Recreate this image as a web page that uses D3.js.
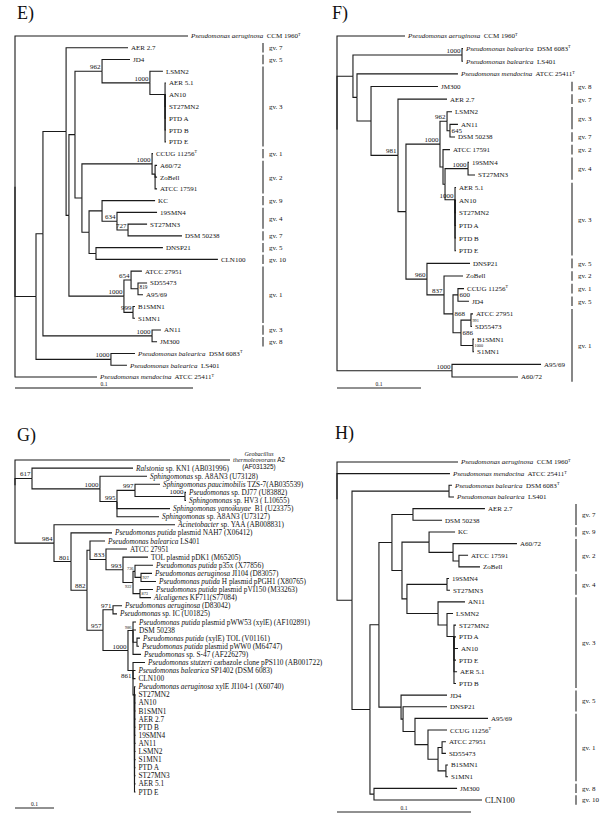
<!DOCTYPE html>
<html><head><meta charset="utf-8">
<script src="https://cdn.jsdelivr.net/npm/d3@7"></script>
<style>
body{margin:0;background:#fff}
svg{display:block}
text{font-family:"Liberation Serif","Times New Roman",serif;fill:#111;white-space:pre}
</style></head><body>
<svg id="chart" width="604" height="825"></svg>
<script>
// ---------- DATA ----------
// Tree rows: [node id / leaf label, parent id, distance from root (subst./site), bootstrap]
// Leaf label markup: *italic*, ^T superscript T, ~sans~, | line break
const treeE = [
 ["e0", null, 0],
 ["*Pseudomonas aeruginosa*  CCM 1960^T", "e0", 0.0972],
 ["e1", "e0", 0.0118],
 ["e2", "e1", 0.0157],
 ["e3", "e2", 0.0287],
 ["AER 2.7", "e3", 0.0635],
 ["e4", "e3", 0.0303],
 ["e5", "e4", 0.0337],
 ["e6", "e5", 0.0489, 962],
 ["JD4", "e6", 0.0646],
 ["e7", "e6", 0.0758, 1000],
 ["LSMN2", "e7", 0.0831],
 ["e8", "e7", 0.0843],
 ["AER 5.1", "e8", 0.0848],
 ["AN10", "e8", 0.0848],
 ["ST27MN2", "e8", 0.0848],
 ["PTD A", "e8", 0.0848],
 ["PTD B", "e8", 0.0848],
 ["PTD E", "e8", 0.0848],
 ["e9", "e5", 0.0376],
 ["e10", "e9", 0.0770, 1000],
 ["CCUG 11256^T", "e10", 0.0775],
 ["e11", "e10", 0.0787],
 ["A60/72", "e11", 0.0798],
 ["ZoBell", "e11", 0.0798],
 ["ATCC 17591", "e11", 0.0798],
 ["e12", "e9", 0.0416],
 ["e13", "e12", 0.0489],
 ["KC", "e13", 0.0787],
 ["e14", "e13", 0.0573, 634],
 ["19SMN4", "e14", 0.0798],
 ["e15", "e14", 0.0635, 727],
 ["ST27MN3", "e15", 0.0742],
 ["DSM 50238", "e15", 0.0938],
 ["e16", "e12", 0.0455],
 ["DNSP21", "e16", 0.0831],
 ["CLN100", "e16", 0.1140],
 ["e17", "e4", 0.0612, 1000],
 ["e18", "e17", 0.0652, 654],
 ["ATCC 27951", "e18", 0.0713],
 ["e19", "e18", 0.0691, 819],
 ["SD55473", "e19", 0.0742],
 ["A95/69", "e19", 0.0719],
 ["e20", "e17", 0.0663, 999],
 ["B1SMN1", "e20", 0.0674],
 ["S1MN1", "e20", 0.0674],
 ["e21", "e2", 0.0770, 1000],
 ["AN11", "e21", 0.0820],
 ["JM300", "e21", 0.0798],
 ["e22", "e1", 0.0539, 1000],
 ["*Pseudomonas balearica*  DSM 6083^T", "e22", 0.0674],
 ["*Pseudomonas balearica*  LS401", "e22", 0.0629],
 ["*Pseudomonas mendocina*  ATCC 25411^T", "e0", 0.0461]
];

const treeF = [
 ["f0", null, 0],
 ["*Pseudomonas aeruginosa*  CCM 1960^T", "f0", 0.0810],
 ["f1", "f0", 0.0190],
 ["f2", "f1", 0.1488, 1000],
 ["*Pseudomonas balearica*  DSM 6083^T", "f2", 0.1500],
 ["*Pseudomonas balearica*  LS401", "f2", 0.1500],
 ["f3", "f1", 0.0238],
 ["*Pseudomonas mendocina*  ATCC 25411^T", "f3", 0.1440],
 ["f4", "f3", 0.0405],
 ["JM300", "f4", 0.1202],
 ["f5", "f4", 0.0726, 981],
 ["AER 2.7", "f5", 0.1310],
 ["f6", "f5", 0.0821],
 ["f7", "f6", 0.1226, 1000],
 ["f8", "f7", 0.1310, 962],
 ["LSMN2", "f8", 0.1369],
 ["f9", "f8", 0.1345, 645],
 ["AN11", "f9", 0.1440],
 ["DSM 50238", "f9", 0.1405],
 ["f10", "f7", 0.1262],
 ["ATCC 17591", "f10", 0.1345],
 ["f11", "f10", 0.1286],
 ["f12", "f11", 0.1560, 1000],
 ["19SMN4", "f12", 0.1571],
 ["ST27MN3", "f12", 0.1643],
 ["f13", "f11", 0.1405, 1000],
 ["AER 5.1", "f13", 0.1417],
 ["AN10", "f13", 0.1417],
 ["ST27MN2", "f13", 0.1417],
 ["PTD A", "f13", 0.1417],
 ["PTD B", "f13", 0.1417],
 ["PTD E", "f13", 0.1417],
 ["f14", "f6", 0.1071, 960],
 ["DNSP21", "f14", 0.1583],
 ["f15", "f14", 0.1274, 837],
 ["ZoBell", "f15", 0.1500],
 ["f16", "f15", 0.1381, 868],
 ["f17", "f16", 0.1440, 600],
 ["CCUG 11256^T", "f17", 0.1512],
 ["JD4", "f17", 0.1571],
 ["f18", "f16", 0.1476, 686],
 ["f19", "f18", 0.1595, 991],
 ["ATCC 27951", "f19", 0.1619],
 ["SD55473", "f19", 0.1607],
 ["f20", "f18", 0.1619, 1000],
 ["B1SMN1", "f20", 0.1631],
 ["S1MN1", "f20", 0.1631],
 ["f21", "f0", 0.1369, 1000],
 ["A95/69", "f21", 0.2429],
 ["A60/72", "f21", 0.2155]
];

const treeG = [
 ["g0", null, 0],
 ["*Geobacillus*|*thermoleovorans* ~A2~|~(AF031325)~", "g0", 0.5513],
 ["g1", "g0", 0.0436, 617],
 ["*Ralstonia* sp. KN1 (AB031996)", "g1", 0.3026],
 ["g2", "g1", 0.2179, 1000],
 ["*Sphingomonas* sp. A8AN3 (U73128)", "g2", 0.3385],
 ["g3", "g2", 0.2615, 995],
 ["g4", "g3", 0.3077, 997],
 ["*Sphingomonas paucimobilis* TZS-7(AB035539)", "g4", 0.3718],
 ["g5", "g4", 0.4359, 1000],
 ["*Pseudomonas* sp. DJ77 (U83882)", "g5", 0.4385],
 ["*Sphingomonas* sp. HV3 ( L10655)", "g5", 0.4385],
 ["*Sphingomonas yanoikuyae*  B1 (U23375)", "g3", 0.3974],
 ["*Sphingomonas* sp. A8AN3 (U73127)", "g3", 0.3692],
 ["g6", "g0", 0.1000, 984],
 ["*Acinetobacter* sp. YAA (AB008831)", "g6", 0.4103],
 ["g7", "g6", 0.1436, 801],
 ["*Pseudomonas putida* plasmid NAH7 (X06412)", "g7", 0.2487],
 ["g8", "g7", 0.1846, 882],
 ["g9", "g8", 0.1923],
 ["*Pseudomonas balearica* LS401", "g9", 0.2308],
 ["g10", "g9", 0.2333, 833],
 ["ATCC 27951", "g10", 0.2872],
 ["g11", "g10", 0.2769, 993],
 ["TOL plasmid pDK1 (M65205)", "g11", 0.3410],
 ["g12", "g11", 0.3026, 922],
 ["g13", "g12", 0.3077, 736],
 ["*Pseudomonas putida* p35x (X77856)", "g13", 0.3538],
 ["g14", "g13", 0.3231, 927],
 ["*Pseudomonas aeruginosa* JI104 (D83057)", "g14", 0.3513],
 ["*Pseudomonas putida* H plasmid pPGH1 (X80765)", "g14", 0.3615],
 ["g15", "g12", 0.3205, 873],
 ["*Pseudomonas putida* plasmid pVI150 (M33263)", "g15", 0.3538],
 ["*Alcaligenes* KF711(S77084)", "g15", 0.3487],
 ["g16", "g8", 0.2256, 957],
 ["g17", "g16", 0.2513, 971],
 ["*Pseudomonas aeruginosa* (D83042)", "g17", 0.2744],
 ["*Pseudomonas* sp. IC (U01825)", "g17", 0.2615],
 ["g18", "g16", 0.2897, 1000],
 ["g19", "g18", 0.3026, 986],
 ["*Pseudomonas putida* plasmid pWW53 (xylE) (AF102891)", "g19", 0.3103],
 ["DSM 50238", "g19", 0.3103],
 ["g20", "g19", 0.3128],
 ["*Pseudomonas putida* (xylE) TOL (V01161)", "g20", 0.3205],
 ["*Pseudomonas putida* plasmid pWW0 (M64747)", "g20", 0.3179],
 ["*Pseudomonas* sp. S-47 (AF226279)", "g19", 0.3231],
 ["g21", "g18", 0.3026, 861],
 ["*Pseudomonas stutzeri* carbazole clone pPS110 (AB001722)", "g21", 0.3333],
 ["*Pseudomonas balearica* SP1402 (DSM 6083)", "g21", 0.3090],
 ["CLN100", "g21", 0.3090],
 ["g22", "g21", 0.3064],
 ["*Pseudomonas aeruginosa* xylE JI104-1 (X60740)", "g22", 0.3090],
 ["ST27MN2", "g22", 0.3090],
 ["AN10", "g22", 0.3090],
 ["B1SMN1", "g22", 0.3090],
 ["AER 2.7", "g22", 0.3090],
 ["PTD B", "g22", 0.3090],
 ["19SMN4", "g22", 0.3090],
 ["AN11", "g22", 0.3090],
 ["LSMN2", "g22", 0.3090],
 ["S1MN1", "g22", 0.3090],
 ["PTD A", "g22", 0.3090],
 ["ST27MN3", "g22", 0.3090],
 ["AER 5.1", "g22", 0.3090],
 ["PTD E", "g22", 0.3090]
];

const treeH = [
 ["h0", null, 0],
 ["*Pseudomonas aeruginosa*  CCM 1960^T", "h0", 0.0903],
 ["*Pseudomonas mendocina*  ATCC 25411^T", "h0", 0.0843],
 ["h1", "h0", 0.0112],
 ["h2", "h1", 0.0836],
 ["*Pseudomonas balearica*  DSM 6083^T", "h2", 0.0858],
 ["*Pseudomonas balearica*  LS401", "h2", 0.0873],
 ["h3", "h1", 0.0246],
 ["h4", "h3", 0.0313],
 ["h5", "h4", 0.0410],
 ["h6", "h5", 0.0567],
 ["AER 2.7", "h6", 0.1104],
 ["DSM 50238", "h6", 0.0784],
 ["h7", "h5", 0.0485],
 ["h8", "h7", 0.0687],
 ["KC", "h8", 0.0881],
 ["h9", "h8", 0.0866],
 ["A60/72", "h9", 0.1343],
 ["h10", "h9", 0.0910],
 ["ATCC 17591", "h10", 0.0978],
 ["ZoBell", "h10", 0.1067],
 ["h11", "h7", 0.0522],
 ["h12", "h11", 0.0821],
 ["19SMN4", "h12", 0.0836],
 ["ST27MN3", "h12", 0.0843],
 ["h13", "h11", 0.0754],
 ["AN11", "h13", 0.0955],
 ["h14", "h13", 0.0821],
 ["LSMN2", "h14", 0.0866],
 ["h15", "h14", 0.0873],
 ["ST27MN2", "h15", 0.0888],
 ["PTD A", "h15", 0.0888],
 ["AN10", "h15", 0.0903],
 ["PTD E", "h15", 0.0888],
 ["AER 5.1", "h15", 0.0896],
 ["PTD B", "h15", 0.0888],
 ["h16", "h4", 0.0478],
 ["JD4", "h16", 0.0821],
 ["h17", "h16", 0.0493],
 ["DNSP21", "h17", 0.0821],
 ["h18", "h17", 0.0582],
 ["A95/69", "h18", 0.1127],
 ["h19", "h18", 0.0679],
 ["CCUG 11256^T", "h19", 0.0821],
 ["h20", "h19", 0.0754],
 ["h21", "h20", 0.0784],
 ["ATCC 27951", "h21", 0.0813],
 ["SD55473", "h21", 0.0813],
 ["h22", "h20", 0.0813],
 ["B1SMN1", "h22", 0.0828],
 ["S1MN1", "h22", 0.0828],
 ["h23", "h3", 0.0276],
 ["JM300", "h23", 0.0896],
 ["CLN100", "h23", 0.1082]
];

// Genomovar groups: [label, first leaf, last leaf]
const groupsE = [["gv. 7","AER 2.7","AER 2.7"],["gv. 5","JD4","JD4"],["gv. 3","LSMN2","PTD E"],
 ["gv. 1","CCUG 11256^T","CCUG 11256^T"],["gv. 2","A60/72","ATCC 17591"],["gv. 9","KC","KC"],
 ["gv. 4","19SMN4","ST27MN3"],["gv. 7","DSM 50238","DSM 50238"],["gv. 5","DNSP21","DNSP21"],
 ["gv. 10","CLN100","CLN100"],["gv. 1","ATCC 27951","S1MN1"],["gv. 3","AN11","AN11"],["gv. 8","JM300","JM300"]];
const groupsF = [["gv. 8","JM300","JM300"],["gv. 7","AER 2.7","AER 2.7"],["gv. 3","LSMN2","AN11"],
 ["gv. 7","DSM 50238","DSM 50238"],["gv. 2","ATCC 17591","ATCC 17591"],["gv. 4","19SMN4","ST27MN3"],
 ["gv. 3","AER 5.1","PTD E"],["gv. 5","DNSP21","DNSP21"],["gv. 2","ZoBell","ZoBell"],
 ["gv. 1","CCUG 11256^T","CCUG 11256^T"],["gv. 5","JD4","JD4"],["gv. 1","ATCC 27951","A60/72"]];
const groupsG = [];
const groupsH = [["gv. 7","AER 2.7","DSM 50238"],["gv. 9","KC","KC"],["gv. 2","A60/72","ZoBell"],
 ["gv. 4","19SMN4","ST27MN3"],["gv. 3","AN11","PTD B"],["gv. 5","JD4","DNSP21"],
 ["gv. 1","A95/69","S1MN1"],["gv. 8","JM300","JM300"],["gv. 10","CLN100","CLN100"]];

const panelTitles = ["E)", "F)", "G)", "H)"];
const scaleBarValue = 0.1;

// ---------- LAYOUT / STYLE ----------
const panels = [
 {rows: treeE, groups: groupsE, title: panelTitles[0], tx: 17, ty: 19, x0: 15, bar: 178, yTop: 36, yBot: 377,
  gx: 263, barY: 388, barColor: "#8a8a8a", barW: 1.8, font: 7, boot: {e19: "Rs"}},
 {rows: treeF, groups: groupsF, title: panelTitles[1], tx: 332, ty: 19, x0: 337, bar: 84, yTop: 36, yBot: 377,
  gx: 572, barY: 388, barColor: "#222", barW: 1, font: 7,
  boot: {f9: "R", f16: "R", f17: "R", f18: "R", f19: "Rt", f20: "Rt"}},
 {rows: treeG, groups: groupsG, title: panelTitles[2], tx: 17, ty: 441, x0: 15, bar: 39, yTop: 460, yBot: 792,
  gx: 0, barY: 808, barColor: "#222", barW: 1, font: 7.3,
  boot: {g12: "Lbt", g13: "Lt", g14: "Rt", g15: "Rt", g19: "Lt", g21: "Lb"}},
 {rows: treeH, groups: groupsH, title: panelTitles[3], tx: 335, ty: 439, x0: 337, bar: 134, yTop: 462, yBot: 800,
  gx: 576, barY: 812, barColor: "#222", barW: 1, font: 7, noBoot: true, leafSize: {"CLN100": 8.5}}
];

const svg = d3.select("#chart");

function richText(sel, str) {
  const re = /(\*[^*]+\*)|(~[^~]+~)|(\^T)|([^*~^]+)/g;
  let m;
  while ((m = re.exec(str))) {
    if (m[1]) sel.append("tspan").attr("font-style", "italic").text(m[1].slice(1, -1));
    else if (m[2]) sel.append("tspan").attr("font-family", "'Liberation Sans',Arial,sans-serif").text(m[2].slice(1, -1));
    else if (m[3]) sel.append("tspan").attr("font-size", "0.6em").attr("dy", -2.6).text("T");
    else sel.append("tspan").text(m[4]);
  }
}

panels.forEach(cfg => {
  const g = svg.append("g");
  const root = d3.stratify().id(d => d[0]).parentId(d => d[1])(cfg.rows);
  const x = d3.scaleLinear().domain([0, scaleBarValue]).range([cfg.x0, cfg.x0 + cfg.bar]);
  const leaves = root.leaves();
  const y = d3.scaleLinear().domain([0, leaves.length - 1]).range([cfg.yTop, cfg.yBot]);
  leaves.forEach((l, i) => { l.py = y(i); });
  root.eachAfter(n => {
    n.px = x(n.data[2]);
    if (n.children) {
      let acc = n.children[n.children.length - 1].py;
      for (let i = n.children.length - 2; i >= 0; i--) acc = (n.children[i].py + acc) / 2;
      n.py = acc;
    }
  });
  const byId = new Map(root.descendants().map(n => [n.id, n]));

  // panel title
  g.append("text").attr("x", cfg.tx).attr("y", cfg.ty).attr("font-size", 18).text(cfg.title);

  // branches
  g.append("g").selectAll("path").data(root.descendants().filter(n => n.parent)).join("path")
    .attr("d", n => `M${n.parent.px},${n.parent.py}V${n.py}H${n.px}`)
    .attr("fill", "none").attr("stroke", "#1a1a1a").attr("stroke-width", 1.1);

  // leaf labels
  leaves.forEach(l => {
    const lab = l.id;
    if (lab.includes("|")) {
      const parts = lab.split("|");
      const cx = l.px + 29;
      const sizes = [6, 6.3, 6.3];
      const offs = [-4.5, 2.3, 9];
      parts.forEach((p, i) => {
        const t = g.append("text").attr("x", cx).attr("y", l.py + offs[i])
          .attr("text-anchor", "middle").attr("font-size", sizes[i]);
        richText(t, p);
      });
    } else {
      const t = g.append("text").attr("x", l.px + 3).attr("y", l.py).attr("dy", "0.35em")
        .attr("font-size", (cfg.leafSize && cfg.leafSize[lab]) || cfg.font);
      richText(t, lab);
    }
  });

  // bootstrap values
  if (!cfg.noBoot) {
    root.descendants().filter(n => n.children && n.data[3] != null).forEach(n => {
      const st = cfg.boot[n.id] || "L";
      const tiny = st.includes("t"), small = st.includes("s");
      const right = st[0] === "R", below = st.includes("b");
      let yy;
      if (small) yy = n.py + 0.3;
      else if (right) yy = n.py + (tiny ? 1.5 : 2.5);
      else if (below) yy = n.py + (tiny ? 5.5 : 7);
      else yy = n.py - (tiny ? 1.5 : 2);
      g.append("text").attr("x", right ? n.px + 1.5 : n.px - 1.5).attr("y", yy)
        .attr("text-anchor", right ? "start" : "end")
        .attr("font-size", tiny ? 4.3 : small ? 5.3 : 7).text(n.data[3]);
    });
  }

  // genomovar bars
  const step = leaves.length > 1 ? y(1) - y(0) : 10;
  const pad = Math.min(step / 2 - 1.2, 4.8);
  cfg.groups.forEach(([lab, a, b]) => {
    const ya = byId.get(a).py - pad, yb = byId.get(b).py + pad;
    g.append("line").attr("x1", cfg.gx).attr("x2", cfg.gx).attr("y1", ya).attr("y2", yb)
      .attr("stroke", "#7a7a7a").attr("stroke-width", 1.8);
    g.append("text").attr("x", cfg.gx + 6).attr("y", (ya + yb) / 2).attr("dy", "0.35em")
      .attr("font-size", 7).text(lab);
  });

  // scale bar
  g.append("line").attr("x1", x(0)).attr("x2", x(scaleBarValue)).attr("y1", cfg.barY).attr("y2", cfg.barY)
    .attr("stroke", cfg.barColor).attr("stroke-width", cfg.barW);
  g.append("text").attr("x", (x(0) + x(scaleBarValue)) / 2).attr("y", cfg.barY - 2.5)
    .attr("text-anchor", "middle").attr("font-size", 5.5).text(String(scaleBarValue));
});
</script>
</body></html>
